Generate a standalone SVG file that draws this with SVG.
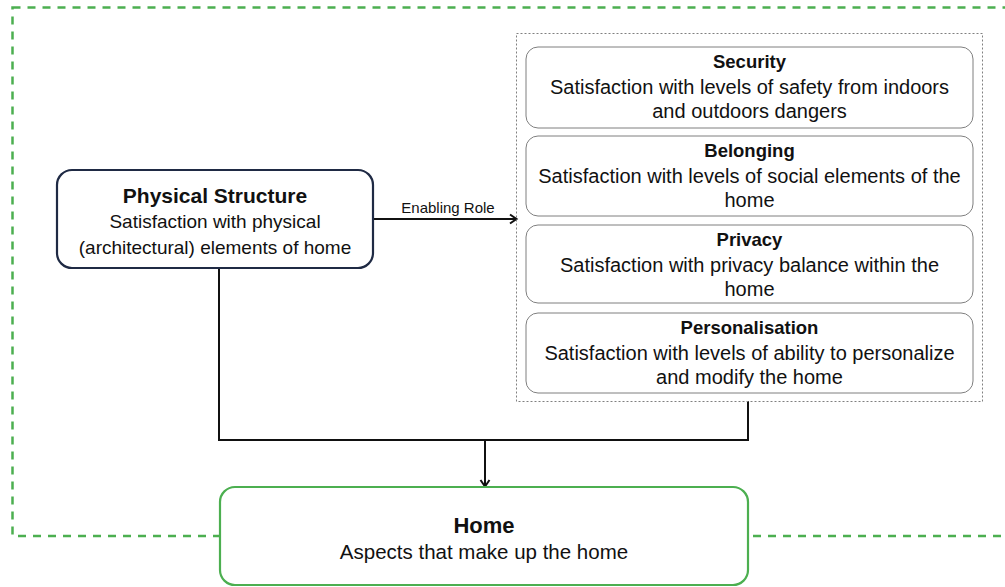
<svg xmlns="http://www.w3.org/2000/svg" width="1005" height="587" viewBox="0 0 1005 587">
<style>
text{font-family:"Liberation Sans",Arial,sans-serif;fill:#111;text-anchor:middle}
.t{font-weight:bold;font-size:18.5px}
.b{font-size:19px}
.r{font-size:20px}
.inner{fill:#fff;stroke:#7f7f7f;stroke-width:1}
.wire{fill:none;stroke:#111;stroke-width:2}
</style>
<defs>
<marker id="arr" markerWidth="12" markerHeight="12" refX="9" refY="6" orient="auto" markerUnits="userSpaceOnUse">
<path d="M3,1.5 L9.5,6 L3,10.5" fill="none" stroke="#111" stroke-width="2"/>
</marker>
</defs>
<rect id="boundary" x="12.5" y="7.5" width="1010" height="528.5" fill="none" stroke="#4caf50" stroke-width="2.5" stroke-dasharray="8 7"/>
<g id="connectors">
<path class="wire" d="M219,268 V440 H748 V401"/>
<path class="wire" d="M485,440 V486" marker-end="url(#arr)"/>
<path class="wire" d="M373,219 H516" marker-end="url(#arr)"/>
<text x="448" y="213" style="font-size:15px">Enabling Role</text>
</g>
<g id="physical">
<rect x="57" y="170" width="316" height="98" rx="15" fill="#fff" stroke="#1f2a44" stroke-width="2.2"/>
<text x="215" y="203" style="font-weight:bold;font-size:21px">Physical Structure</text>
<text x="215" y="228" class="b">Satisfaction with physical</text>
<text x="215" y="254" class="b">(architectural) elements of home</text>
</g>
<g id="aspects">
<rect x="516.5" y="33.5" width="466" height="368" fill="none" stroke="#808080" stroke-width="1" stroke-dasharray="2 2"/>
<g id="security">
<rect class="inner" x="526" y="47" width="447" height="81" rx="12"/>
<text x="749.5" y="68" class="t">Security</text>
<text x="749.5" y="94" class="r">Satisfaction with levels of safety from indoors</text>
<text x="749.5" y="118" class="r">and outdoors dangers</text>
</g>
<g id="belonging">
<rect class="inner" x="526" y="136" width="447" height="80" rx="12"/>
<text x="749.5" y="157" class="t">Belonging</text>
<text x="749.5" y="183" class="r">Satisfaction with levels of social elements of the</text>
<text x="749.5" y="207" class="r">home</text>
</g>
<g id="privacy">
<rect class="inner" x="526" y="225" width="447" height="78" rx="12"/>
<text x="749.5" y="246" class="t">Privacy</text>
<text x="749.5" y="272" class="r">Satisfaction with privacy balance within the</text>
<text x="749.5" y="296" class="r">home</text>
</g>
<g id="personalisation">
<rect class="inner" x="526" y="313" width="447" height="80" rx="12"/>
<text x="749.5" y="334" class="t">Personalisation</text>
<text x="749.5" y="360" class="r">Satisfaction with levels of ability to personalize</text>
<text x="749.5" y="384" class="r">and modify the home</text>
</g>
</g>
<g id="home">
<rect x="220" y="487" width="528" height="98" rx="15" fill="#fff" stroke="#4caf50" stroke-width="2.2"/>
<text x="484" y="533" style="font-weight:bold;font-size:22px">Home</text>
<text x="484" y="559" style="font-size:20.5px">Aspects that make up the home</text>
</g>
</svg>
